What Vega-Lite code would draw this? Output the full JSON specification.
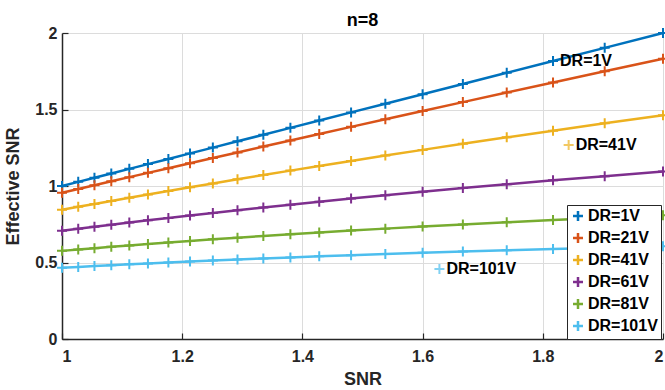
{
  "$schema": "https://vega.github.io/schema/vega-lite/v6.json",
  "width": 601,
  "height": 306,
  "autosize": {"type": "none"},
  "padding": {"left": 62, "top": 33, "right": 2, "bottom": 51},
  "background": "white",
  "title": {"text": "n=8", "fontSize": 18, "fontWeight": "bold", "font": "Liberation Sans", "color": "#000000", "offset": 7, "dy": 13},
  "config": {
    "view": {"stroke": null},
    "axis": {
      "labelFont": "Liberation Sans", "labelFontSize": 16, "labelFontWeight": "bold", "labelColor": "#262626",
      "titleFont": "Liberation Sans", "titleFontSize": 18, "titleFontWeight": "bold", "titleColor": "#262626",
      "domainColor": "#262626", "domainWidth": 1.5, "tickColor": "#262626", "tickSize": -6, "tickWidth": 1.2,
      "gridColor": "#dcdcdc", "gridWidth": 1
    }
  },
  "datasets": {
    "curves": [
      {"snr":1.000,"eff":1.000,"dr":"DR=1V"},{"snr":1.027,"eff":1.027,"dr":"DR=1V"},{"snr":1.054,"eff":1.054,"dr":"DR=1V"},{"snr":1.082,"eff":1.082,"dr":"DR=1V"},{"snr":1.112,"eff":1.112,"dr":"DR=1V"},{"snr":1.143,"eff":1.143,"dr":"DR=1V"},{"snr":1.177,"eff":1.177,"dr":"DR=1V"},{"snr":1.213,"eff":1.213,"dr":"DR=1V"},{"snr":1.251,"eff":1.251,"dr":"DR=1V"},{"snr":1.292,"eff":1.292,"dr":"DR=1V"},{"snr":1.335,"eff":1.335,"dr":"DR=1V"},{"snr":1.380,"eff":1.380,"dr":"DR=1V"},{"snr":1.428,"eff":1.428,"dr":"DR=1V"},{"snr":1.481,"eff":1.481,"dr":"DR=1V"},{"snr":1.538,"eff":1.538,"dr":"DR=1V"},{"snr":1.600,"eff":1.600,"dr":"DR=1V"},{"snr":1.667,"eff":1.667,"dr":"DR=1V"},{"snr":1.740,"eff":1.740,"dr":"DR=1V"},{"snr":1.817,"eff":1.817,"dr":"DR=1V"},{"snr":1.903,"eff":1.903,"dr":"DR=1V"},{"snr":2.000,"eff":2.000,"dr":"DR=1V"},
      {"snr":1.000,"eff":0.9560,"dr":"DR=21V"},{"snr":1.027,"eff":0.9807,"dr":"DR=21V"},{"snr":1.054,"eff":1.0053,"dr":"DR=21V"},{"snr":1.082,"eff":1.0307,"dr":"DR=21V"},{"snr":1.112,"eff":1.0579,"dr":"DR=21V"},{"snr":1.143,"eff":1.0859,"dr":"DR=21V"},{"snr":1.177,"eff":1.1165,"dr":"DR=21V"},{"snr":1.213,"eff":1.1489,"dr":"DR=21V"},{"snr":1.251,"eff":1.1829,"dr":"DR=21V"},{"snr":1.292,"eff":1.2195,"dr":"DR=21V"},{"snr":1.335,"eff":1.2578,"dr":"DR=21V"},{"snr":1.380,"eff":1.2976,"dr":"DR=21V"},{"snr":1.428,"eff":1.3400,"dr":"DR=21V"},{"snr":1.481,"eff":1.3865,"dr":"DR=21V"},{"snr":1.538,"eff":1.4364,"dr":"DR=21V"},{"snr":1.600,"eff":1.4903,"dr":"DR=21V"},{"snr":1.667,"eff":1.5483,"dr":"DR=21V"},{"snr":1.740,"eff":1.6111,"dr":"DR=21V"},{"snr":1.817,"eff":1.6769,"dr":"DR=21V"},{"snr":1.903,"eff":1.7498,"dr":"DR=21V"},{"snr":2.000,"eff":1.8315,"dr":"DR=21V"},
      {"snr":1.000,"eff":0.8446,"dr":"DR=41V"},{"snr":1.027,"eff":0.8638,"dr":"DR=41V"},{"snr":1.054,"eff":0.8828,"dr":"DR=41V"},{"snr":1.082,"eff":0.9024,"dr":"DR=41V"},{"snr":1.112,"eff":0.9231,"dr":"DR=41V"},{"snr":1.143,"eff":0.9444,"dr":"DR=41V"},{"snr":1.177,"eff":0.9675,"dr":"DR=41V"},{"snr":1.213,"eff":0.9917,"dr":"DR=41V"},{"snr":1.251,"eff":1.0169,"dr":"DR=41V"},{"snr":1.292,"eff":1.0439,"dr":"DR=41V"},{"snr":1.335,"eff":1.0717,"dr":"DR=41V"},{"snr":1.380,"eff":1.1005,"dr":"DR=41V"},{"snr":1.428,"eff":1.1309,"dr":"DR=41V"},{"snr":1.481,"eff":1.1638,"dr":"DR=41V"},{"snr":1.538,"eff":1.1988,"dr":"DR=41V"},{"snr":1.600,"eff":1.2361,"dr":"DR=41V"},{"snr":1.667,"eff":1.2757,"dr":"DR=41V"},{"snr":1.740,"eff":1.3180,"dr":"DR=41V"},{"snr":1.817,"eff":1.3618,"dr":"DR=41V"},{"snr":1.903,"eff":1.4095,"dr":"DR=41V"},{"snr":2.000,"eff":1.4620,"dr":"DR=41V"},
      {"snr":1.000,"eff":0.7072,"dr":"DR=61V"},{"snr":1.027,"eff":0.7206,"dr":"DR=61V"},{"snr":1.054,"eff":0.7338,"dr":"DR=61V"},{"snr":1.082,"eff":0.7473,"dr":"DR=61V"},{"snr":1.112,"eff":0.7615,"dr":"DR=61V"},{"snr":1.143,"eff":0.7759,"dr":"DR=61V"},{"snr":1.177,"eff":0.7914,"dr":"DR=61V"},{"snr":1.213,"eff":0.8075,"dr":"DR=61V"},{"snr":1.251,"eff":0.8242,"dr":"DR=61V"},{"snr":1.292,"eff":0.8418,"dr":"DR=61V"},{"snr":1.335,"eff":0.8598,"dr":"DR=61V"},{"snr":1.380,"eff":0.8782,"dr":"DR=61V"},{"snr":1.428,"eff":0.8974,"dr":"DR=61V"},{"snr":1.481,"eff":0.9181,"dr":"DR=61V"},{"snr":1.538,"eff":0.9397,"dr":"DR=61V"},{"snr":1.600,"eff":0.9625,"dr":"DR=61V"},{"snr":1.667,"eff":0.9863,"dr":"DR=61V"},{"snr":1.740,"eff":1.0114,"dr":"DR=61V"},{"snr":1.817,"eff":1.0370,"dr":"DR=61V"},{"snr":1.903,"eff":1.0644,"dr":"DR=61V"},{"snr":2.000,"eff":1.0941,"dr":"DR=61V"},
      {"snr":1.000,"eff":0.5760,"dr":"DR=81V"},{"snr":1.027,"eff":0.5849,"dr":"DR=81V"},{"snr":1.054,"eff":0.5936,"dr":"DR=81V"},{"snr":1.082,"eff":0.6023,"dr":"DR=81V"},{"snr":1.112,"eff":0.6115,"dr":"DR=81V"},{"snr":1.143,"eff":0.6208,"dr":"DR=81V"},{"snr":1.177,"eff":0.6307,"dr":"DR=81V"},{"snr":1.213,"eff":0.6409,"dr":"DR=81V"},{"snr":1.251,"eff":0.6513,"dr":"DR=81V"},{"snr":1.292,"eff":0.6623,"dr":"DR=81V"},{"snr":1.335,"eff":0.6734,"dr":"DR=81V"},{"snr":1.380,"eff":0.6846,"dr":"DR=81V"},{"snr":1.428,"eff":0.6962,"dr":"DR=81V"},{"snr":1.481,"eff":0.7086,"dr":"DR=81V"},{"snr":1.538,"eff":0.7214,"dr":"DR=81V"},{"snr":1.600,"eff":0.7348,"dr":"DR=81V"},{"snr":1.667,"eff":0.7486,"dr":"DR=81V"},{"snr":1.740,"eff":0.7629,"dr":"DR=81V"},{"snr":1.817,"eff":0.7774,"dr":"DR=81V"},{"snr":1.903,"eff":0.7927,"dr":"DR=81V"},{"snr":2.000,"eff":0.8091,"dr":"DR=81V"},
      {"snr":1.000,"eff":0.4651,"dr":"DR=101V"},{"snr":1.027,"eff":0.4709,"dr":"DR=101V"},{"snr":1.054,"eff":0.4765,"dr":"DR=101V"},{"snr":1.082,"eff":0.4821,"dr":"DR=101V"},{"snr":1.112,"eff":0.4880,"dr":"DR=101V"},{"snr":1.143,"eff":0.4939,"dr":"DR=101V"},{"snr":1.177,"eff":0.5001,"dr":"DR=101V"},{"snr":1.213,"eff":0.5065,"dr":"DR=101V"},{"snr":1.251,"eff":0.5130,"dr":"DR=101V"},{"snr":1.292,"eff":0.5198,"dr":"DR=101V"},{"snr":1.335,"eff":0.5266,"dr":"DR=101V"},{"snr":1.380,"eff":0.5334,"dr":"DR=101V"},{"snr":1.428,"eff":0.5405,"dr":"DR=101V"},{"snr":1.481,"eff":0.5479,"dr":"DR=101V"},{"snr":1.538,"eff":0.5555,"dr":"DR=101V"},{"snr":1.600,"eff":0.5634,"dr":"DR=101V"},{"snr":1.667,"eff":0.5715,"dr":"DR=101V"},{"snr":1.740,"eff":0.5798,"dr":"DR=101V"},{"snr":1.817,"eff":0.5881,"dr":"DR=101V"},{"snr":1.903,"eff":0.5968,"dr":"DR=101V"},{"snr":2.000,"eff":0.6061,"dr":"DR=101V"}
    ],
    "notes": [
      {"snr": 1.817, "eff": 1.817, "dr": "DR=1V", "label": "DR=1V"},
      {"snr": 1.843, "eff": 1.268, "dr": "DR=41V", "label": "DR=41V"},
      {"snr": 1.628, "eff": 0.458, "dr": "DR=101V", "label": "DR=101V"}
    ]
  },
  "encoding": {
    "x": {"field": "snr", "type": "quantitative", "title": "SNR",
      "scale": {"domain": [1, 2], "nice": false, "zero": false},
      "axis": {"values": [1, 1.2, 1.4, 1.6, 1.8, 2], "format": "~g", "labelPadding": 15, "titlePadding": 6}},
    "y": {"field": "eff", "type": "quantitative", "title": "Effective SNR",
      "scale": {"domain": [0, 2], "nice": false},
      "axis": {"values": [0, 0.5, 1, 1.5, 2], "format": "~g", "labelPadding": 11, "titlePadding": 12}}
  },
  "layer": [
    {
      "data": {"name": "curves"},
      "mark": {"type": "line", "strokeWidth": 2.5, "point": {"shape": "M-1,0L1,0M0,-1L0,1", "filled": false, "size": 100, "strokeWidth": 2}},
      "encoding": {
        "color": {"field": "dr", "type": "nominal",
          "scale": {"domain": ["DR=1V", "DR=21V", "DR=41V", "DR=61V", "DR=81V", "DR=101V"],
                    "range": ["#0072BD", "#D95319", "#EDB120", "#7E2F8E", "#77AC30", "#4DBEEE"]},
          "legend": {"title": null, "orient": "none", "legendX": 505, "legendY": 172,
            "symbolType": "M-1,0L1,0M0,-1L0,1", "symbolSize": 100, "symbolStrokeWidth": 2.5,
            "labelFont": "Liberation Sans", "labelFontSize": 16, "labelFontWeight": "bold", "labelColor": "#000000",
            "labelOffset": 2, "rowPadding": 2, "padding": 3, "strokeColor": "#262626", "fillColor": "#ffffff"}}
      }
    },
    {
      "data": {"name": "notes"},
      "mark": {"type": "point", "shape": "M-1,0L1,0M0,-1L0,1", "filled": false, "size": 100, "strokeWidth": 2},
      "encoding": {
        "color": {"field": "dr", "type": "nominal",
          "legend": {"title": null, "orient": "none", "legendX": 505, "legendY": 172,
            "symbolType": "M-1,0L1,0M0,-1L0,1", "symbolSize": 100, "symbolStrokeWidth": 2.5,
            "labelFont": "Liberation Sans", "labelFontSize": 16, "labelFontWeight": "bold", "labelColor": "#000000",
            "labelOffset": 2, "rowPadding": 2, "padding": 3, "strokeColor": "#262626", "fillColor": "#ffffff"}}
      }
    },
    {
      "data": {"name": "notes"},
      "mark": {"type": "text", "align": "left", "baseline": "middle", "dx": 7, "font": "Liberation Sans", "fontSize": 16, "fontWeight": "bold", "color": "#000000"},
      "encoding": {"text": {"field": "label"}}
    }
  ]
}
